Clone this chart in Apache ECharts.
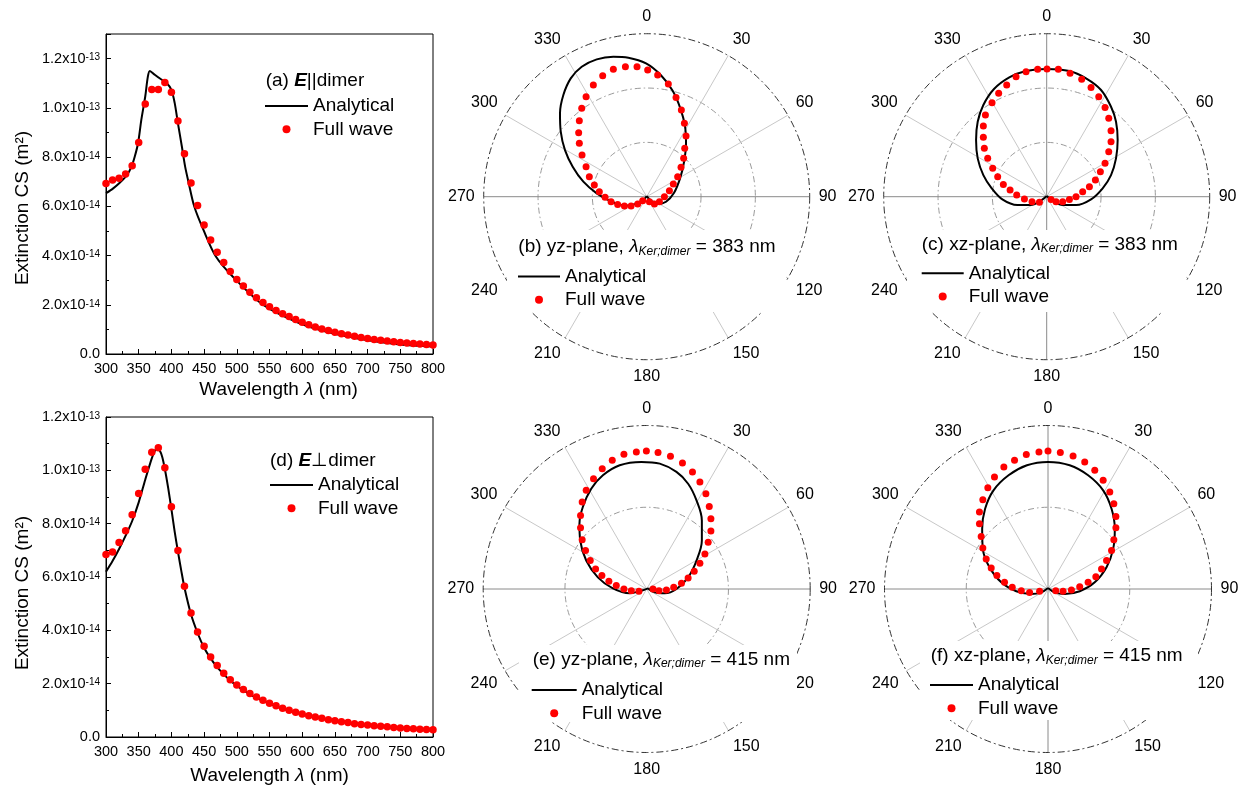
<!DOCTYPE html>
<html>
<head>
<meta charset="utf-8">
<script src="https://cdn.jsdelivr.net/npm/echarts@6/dist/echarts.min.js"></script>
<style>html,body{margin:0;padding:0;background:#fff}#c{width:1241px;height:786px}</style>
</head>
<body>
<div id="c"></div>
<script>
// ---------- DATA ----------
// Extinction cross-sections, in units of 1e-14 m^2, versus wavelength (nm)
const dotWavelength = [300,310,320,330,340,350,360,370,380,390,400,410,420,430,440,450,460,470,480,490,500,510,520,530,540,550,560,570,580,590,600,610,620,630,640,650,660,670,680,690,700,710,720,730,740,750,760,770,780,790,800];
const aFullWave = [6.93,7.07,7.14,7.31,7.65,8.59,10.16,10.75,10.75,11.03,10.63,9.47,8.14,6.95,6.03,5.24,4.63,4.13,3.72,3.35,3.03,2.76,2.51,2.29,2.09,1.92,1.77,1.64,1.52,1.40,1.29,1.19,1.10,1.02,0.95,0.88,0.82,0.77,0.72,0.67,0.63,0.59,0.56,0.53,0.50,0.47,0.45,0.43,0.41,0.39,0.37];
const aAnalyticalWl = [300,311,321,332,339,344,349,354,360,364,367,372,382,393,400,405,410,416,421,426,435,449,468,494,540,596,647,698,749,800];
const aAnalytical = [6.53,6.73,6.96,7.27,7.61,8.02,8.56,9.51,10.46,11.27,11.5,11.4,11.2,11.0,10.73,10.2,9.37,8.43,7.61,7.0,5.99,5.04,3.96,3.14,2.0,1.25,0.84,0.57,0.39,0.30];
const dFullWave = [6.84,6.94,7.29,7.73,8.33,9.13,10.04,10.68,10.85,10.10,8.63,6.99,5.65,4.65,3.94,3.40,3.00,2.68,2.39,2.15,1.95,1.78,1.63,1.50,1.38,1.27,1.17,1.08,1.00,0.93,0.86,0.80,0.75,0.70,0.65,0.61,0.57,0.54,0.50,0.47,0.45,0.42,0.40,0.38,0.36,0.34,0.32,0.31,0.29,0.28,0.27];
const dAnalyticalWl = [300,310,320,330,340,350,360,370,375,378,382,386,390,395,400,405,410,415,420,430,440,450,460,470,480,490,500,520,540,560,580,600,625,650,675,700,725,750,775,800];
const dAnalytical = [6.2,6.6,7.05,7.55,8.1,8.8,9.65,10.45,10.75,10.85,10.75,10.5,10.05,9.35,8.55,7.7,6.95,6.25,5.6,4.6,3.9,3.35,2.95,2.62,2.35,2.12,1.92,1.6,1.36,1.15,0.98,0.85,0.72,0.61,0.52,0.44,0.38,0.33,0.28,0.24];

// Far-field patterns: [horizontal, vertical] components (outer ring = 1.5)
const bAnalytical = [[0,0.006],[0.046,-0.043],[0.107,-0.067],[0.178,-0.046],[0.252,0.037],[0.307,0.169],[0.344,0.322],[0.362,0.491],[0.353,0.644],[0.313,0.804],[0.239,0.975],[0.129,1.120],[-0.006,1.227],[-0.169,1.279],[-0.307,1.288],[-0.460,1.264],[-0.598,1.196],[-0.699,1.089],[-0.767,0.936],[-0.798,0.767],[-0.791,0.598],[-0.752,0.429],[-0.681,0.276],[-0.583,0.138],[-0.460,0.031],[-0.322,-0.046],[-0.190,-0.083],[-0.086,-0.061],[-0.025,-0.025],[0,0.006]];
const bFullWave = [[-0.089,1.196],[0.009,1.166],[0.101,1.120],[0.199,1.037],[0.270,0.914],[0.319,0.798],[0.347,0.675],[0.362,0.558],[0.350,0.445],[0.340,0.353],[0.316,0.270],[0.285,0.184],[0.245,0.117],[0.209,0.055],[0.163,0],[0.117,-0.046],[0.071,-0.067],[0.025,-0.046],[-0.037,-0.037],[-0.083,-0.067],[-0.144,-0.086],[-0.205,-0.086],[-0.267,-0.071],[-0.328,-0.046],[-0.383,-0.006],[-0.436,0.046],[-0.482,0.107],[-0.528,0.184],[-0.558,0.276],[-0.595,0.383],[-0.620,0.491],[-0.626,0.589],[-0.620,0.699],[-0.598,0.813],[-0.558,0.920],[-0.491,1.028],[-0.405,1.113],[-0.307,1.172],[-0.196,1.196]];
const cAnalytical = [[0,0.006],[0.055,-0.037],[0.147,-0.077],[0.270,-0.077],[0.408,-0.025],[0.515,0.077],[0.592,0.199],[0.638,0.353],[0.653,0.521],[0.638,0.690],[0.592,0.828],[0.500,0.982],[0.362,1.089],[0.209,1.156],[0,1.175],[-0.190,1.156],[-0.344,1.098],[-0.485,0.991],[-0.583,0.844],[-0.635,0.690],[-0.650,0.521],[-0.635,0.353],[-0.583,0.199],[-0.506,0.077],[-0.408,-0.025],[-0.270,-0.077],[-0.147,-0.077],[-0.055,-0.037],[0,0.006]];
const cFullWave = [[0.003,1.175],[0.107,1.172],[0.215,1.135],[0.322,1.080],[0.408,1.006],[0.479,0.920],[0.537,0.822],[0.571,0.721],[0.592,0.607],[0.592,0.506],[0.571,0.414],[0.537,0.307],[0.494,0.230],[0.448,0.153],[0.393,0.092],[0.331,0.046],[0.270,0],[0.209,-0.025],[0.147,-0.046],[0.086,-0.046],[0.040,-0.025],[-0.067,-0.052],[-0.135,-0.046],[-0.205,-0.021],[-0.276,0.015],[-0.337,0.061],[-0.399,0.113],[-0.451,0.184],[-0.497,0.261],[-0.543,0.353],[-0.574,0.445],[-0.583,0.546],[-0.583,0.650],[-0.564,0.752],[-0.503,0.865],[-0.442,0.951],[-0.368,1.028],[-0.282,1.104],[-0.190,1.150],[-0.083,1.172]];
const eAnalytical = [[0.012,0.006],[0.074,-0.031],[0.166,-0.040],[0.273,0],[0.380,0.107],[0.457,0.261],[0.506,0.445],[0.506,0.629],[0.457,0.813],[0.380,0.966],[0.273,1.074],[0.120,1.150],[-0.049,1.166],[-0.248,1.135],[-0.402,1.043],[-0.509,0.920],[-0.586,0.752],[-0.617,0.598],[-0.610,0.445],[-0.555,0.261],[-0.448,0.107],[-0.310,0.005],[-0.156,-0.040],[-0.049,-0.015],[0.012,0.006]];
const eFullWave = [[-0.003,1.267],[0.104,1.252],[0.218,1.218],[0.328,1.156],[0.420,1.074],[0.488,0.982],[0.543,0.874],[0.574,0.758],[0.589,0.644],[0.589,0.531],[0.564,0.429],[0.534,0.322],[0.488,0.236],[0.436,0.163],[0.380,0.101],[0.319,0.052],[0.248,0.015],[0.181,-0.009],[0.113,-0.015],[0.058,0],[-0.071,-0.021],[-0.141,-0.015],[-0.209,0],[-0.279,0.031],[-0.347,0.071],[-0.411,0.123],[-0.469,0.184],[-0.518,0.261],[-0.561,0.353],[-0.592,0.451],[-0.607,0.561],[-0.607,0.675],[-0.592,0.798],[-0.555,0.905],[-0.488,1.012],[-0.408,1.104],[-0.316,1.181],[-0.209,1.236],[-0.095,1.258]];
const fAnalytical = [[0,0.009],[0.061,-0.031],[0.153,-0.046],[0.291,-0.021],[0.429,0.061],[0.537,0.199],[0.598,0.368],[0.613,0.552],[0.583,0.736],[0.506,0.905],[0.368,1.043],[0.199,1.135],[0,1.166],[-0.193,1.135],[-0.362,1.043],[-0.500,0.905],[-0.577,0.736],[-0.604,0.552],[-0.598,0.368],[-0.537,0.199],[-0.429,0.061],[-0.291,-0.021],[-0.153,-0.046],[-0.061,-0.031],[0,0.009]];
const fFullWave = [[0,1.267],[0.113,1.252],[0.230,1.221],[0.337,1.166],[0.429,1.089],[0.506,0.997],[0.567,0.890],[0.604,0.782],[0.623,0.666],[0.623,0.561],[0.604,0.451],[0.583,0.353],[0.537,0.261],[0.491,0.184],[0.439,0.113],[0.368,0.061],[0.291,0.021],[0.215,-0.009],[0.138,-0.021],[0.071,-0.015],[-0.077,-0.021],[-0.169,-0.031],[-0.245,-0.015],[-0.328,0.015],[-0.399,0.061],[-0.469,0.123],[-0.521,0.193],[-0.567,0.276],[-0.598,0.377],[-0.613,0.482],[-0.629,0.598],[-0.629,0.706],[-0.598,0.819],[-0.552,0.929],[-0.491,1.028],[-0.405,1.120],[-0.307,1.181],[-0.199,1.233],[-0.083,1.258]];

const panelTitles = [
  '{n|(a) }{be|E}{n|||dimer}',
  '{n|(d) }{be|E}{n|⊥dimer}',
  '{n|(b) yz-plane, }{i|λ}{s|Ker;dimer}{n| = 383 nm}',
  '{n|(c) xz-plane, }{i|λ}{s|Ker;dimer}{n| = 383 nm}',
  '{n|(e) yz-plane, }{i|λ}{s|Ker;dimer}{n| = 415 nm}',
  '{n|(f) xz-plane, }{i|λ}{s|Ker;dimer}{n| = 415 nm}'
];
const seriesNames = ['Analytical', 'Full wave'];

// ---------- LAYOUT ----------
const FONT = '"Liberation Sans", Arial, Helvetica, sans-serif';
const polarPanels = [
  {cx:646.7, cy:196.7, r:163,   step:0.5,  vline:false, l120:'120', cover:[507,230,279,82]},
  {cx:1046.7,cy:196.7, r:163,   step:0.5,  vline:true,  l120:'120', cover:[907,230,279,82]},
  {cx:646.7, cy:589,   r:163.5, step:0.75, vline:false, l120:'20',  cover:[519,645,278,77]},
  {cx:1048,  cy:589,   r:163.5, step:0.75, vline:true,  l120:'120', cover:[920,641,278,79]}
];
const polarData = [[bAnalytical,bFullWave],[cAnalytical,cFullWave],[eAnalytical,eFullWave],[fAnalytical,fFullWave]];
const titlePos = [[265.7,71.7],[270,451],[518.3,237.7],[921.7,235],[532.7,650],[930.7,646.7]];
const legendPos = [[265,96.5,43],[270,475.5,43],[518,267,42],[921.7,263.8,42],[531.7,680.5,45],[930,675.5,43]];

const titleRich = {
  n:{fontSize:19,fontFamily:FONT,fontWeight:'normal',color:'#000',lineHeight:20,verticalAlign:'top'},
  i:{fontSize:19,fontFamily:FONT,fontWeight:'normal',fontStyle:'italic',color:'#000',lineHeight:20,verticalAlign:'top'},
  be:{fontSize:19,fontFamily:FONT,fontStyle:'italic',fontWeight:'bold',color:'#000',lineHeight:20,verticalAlign:'top'},
  s:{fontSize:12,fontFamily:FONT,fontWeight:'normal',fontStyle:'italic',color:'#000',lineHeight:12,padding:[11,0,0,0],verticalAlign:'bottom'}
};

function sciLabel(v){
  if (Math.abs(v) < 1e-9) return '{b|0.0}';
  if (Math.abs(v - Math.round(v/2)*2) > 1e-6) return '';
  const big = v >= 10;
  const m = big ? v/10 : v;
  return '{b|' + m.toFixed(1) + 'x10}{p|' + (big ? '-13' : '-14') + '}';
}
const yRich = {
  b:{fontSize:14.5,fontFamily:FONT,color:'#000',lineHeight:14,padding:[5,0,5,0]},
  p:{fontSize:10,fontFamily:FONT,color:'#000',lineHeight:10,padding:[1,0,0,0],verticalAlign:'top'}
};

function leftX(gi, gap, padLeft){
  return {gridIndex:gi,type:'value',min:300,max:800,interval:50,
    axisLine:{lineStyle:{color:'#000',width:1}},
    axisTick:{inside:true,length:5,lineStyle:{color:'#000'}},
    minorTick:{show:true,splitNumber:2,length:3,lineStyle:{color:'#000'}},
    splitLine:{show:false},
    axisLabel:{color:'#000',fontSize:14.5,fontFamily:FONT,margin:7},
    name:'Wavelength {i|λ} (nm)',nameLocation:'middle',nameGap:gap,
    nameTextStyle:{fontSize:19,fontFamily:FONT,color:'#000',lineHeight:19,padding:[0,0,0,padLeft],
      rich:{i:{fontSize:19,fontFamily:FONT,fontStyle:'italic',color:'#000'}}}};
}
function leftY(gi, max, padRight){
  return {gridIndex:gi,type:'value',min:0,max:max,interval:2,
    axisLine:{lineStyle:{color:'#000',width:1}},
    axisTick:{inside:true,length:5,lineStyle:{color:'#000'}},
    minorTick:{show:true,splitNumber:2,length:3,lineStyle:{color:'#000'}},
    splitLine:{show:false},
    axisLabel:{color:'#000',margin:6,formatter:sciLabel,rich:yRich},
    name:'Extinction CS (m²)',nameLocation:'middle',nameRotate:90,nameGap:74,
    nameTextStyle:{fontSize:19,fontFamily:FONT,color:'#000',lineHeight:19,padding:[0,padRight,0,0]}};
}

const grids = [
  {left:106,top:34,width:327,height:320,show:true,borderColor:'#000',borderWidth:1},
  {left:106,top:417,width:327,height:320,show:true,borderColor:'#000',borderWidth:1}
].concat(polarPanels.map(p=>({left:p.cx-p.r,top:p.cy-p.r,width:2*p.r,height:2*p.r})));

const xAxes = [leftX(0,26,18), leftX(1,29,0)].concat(polarPanels.map((p,i)=>({gridIndex:i+2,type:'value',min:-1.5,max:1.5,show:false})));
const yAxes = [leftY(0,13,28), leftY(1,12,32)].concat(polarPanels.map((p,i)=>({gridIndex:i+2,type:'value',min:-1.5,max:1.5,show:false})));

const LIGHT = '#c8c8c8', DARK = '#8a8a8a', NONE = 'rgba(0,0,0,0)', RING = '#9a9a9a';
function spokeColors(vline){
  const v = vline ? DARK : NONE;
  return [v,LIGHT,LIGHT,DARK,LIGHT,LIGHT,v,LIGHT,LIGHT,DARK,LIGHT,LIGHT];
}

const series = [
  {name:seriesNames[0],type:'line',xAxisIndex:0,yAxisIndex:0,data:aAnalyticalWl.map((w,i)=>[w,aAnalytical[i]]),smooth:0.3,symbol:'none',lineStyle:{color:'#000',width:2},itemStyle:{color:'#000'},z:2},
  {name:seriesNames[1],type:'scatter',xAxisIndex:0,yAxisIndex:0,data:dotWavelength.map((w,i)=>[w,aFullWave[i]]),symbolSize:7.5,itemStyle:{color:'#ff0000',opacity:1},z:3},
  {name:seriesNames[0],type:'line',xAxisIndex:1,yAxisIndex:1,data:dAnalyticalWl.map((w,i)=>[w,dAnalytical[i]]),smooth:0.3,symbol:'none',lineStyle:{color:'#000',width:2},itemStyle:{color:'#000'},z:2},
  {name:seriesNames[1],type:'scatter',xAxisIndex:1,yAxisIndex:1,data:dotWavelength.map((w,i)=>[w,dFullWave[i]]),symbolSize:7.5,itemStyle:{color:'#ff0000',opacity:1},z:3}
];
polarData.forEach((d,i)=>{
  series.push({name:seriesNames[0],type:'line',xAxisIndex:i+2,yAxisIndex:i+2,data:d[0],smooth:0.35,symbol:'none',lineStyle:{color:'#000',width:2},itemStyle:{color:'#000'},z:2});
  series.push({name:seriesNames[1],type:'scatter',xAxisIndex:i+2,yAxisIndex:i+2,data:d[1],symbolSize:7,itemStyle:{color:'#ff0000',opacity:1},z:3});
});

const option = {
  backgroundColor:'#fff',
  animation:false,
  textStyle:{fontFamily:FONT},
  title: panelTitles.map((t,i)=>({text:t,left:titlePos[i][0],top:titlePos[i][1],padding:0,textStyle:{fontWeight:'normal',rich:titleRich}})),
  legend: legendPos.map(l=>({
    data:[{name:seriesNames[0],icon:'path://M0,0H43V2H0Z'},{name:seriesNames[1],icon:'circle'}],
    orient:'vertical',left:l[0],top:l[1],padding:0,itemWidth:l[2],itemHeight:8,itemGap:4.3,selectedMode:false,
    textStyle:{fontSize:19,fontFamily:FONT,color:'#000',lineHeight:19}})),
  grid: grids,
  xAxis: xAxes,
  yAxis: yAxes,
  polar: polarPanels.map(p=>({center:[p.cx,p.cy],radius:p.r})),
  angleAxis: polarPanels.map((p,i)=>({polarIndex:i,type:'value',min:0,max:360,interval:30,startAngle:90,clockwise:true,z:0,
    axisLine:{show:true,lineStyle:{color:'#333',width:1,type:[7,3,2,3]}},
    axisTick:{show:false},
    axisLabel:{fontSize:16,fontFamily:FONT,color:'#000',margin:9,formatter:v=>v===360?'':(v===120?p.l120:String(v))},
    splitLine:{show:true,lineStyle:{color:spokeColors(p.vline),width:1}}})),
  radiusAxis: polarPanels.map((p,i)=>({polarIndex:i,type:'value',min:0,max:1.5,interval:p.step,z:0,
    axisLine:{show:false},axisTick:{show:false},axisLabel:{show:false},
    splitLine:{show:true,lineStyle:{color:p.step===0.5?[RING,RING,RING,NONE]:[RING,RING,NONE],width:1,type:[6,3,1.5,3]}}})),
  graphic:{elements:polarPanels.map(p=>({type:'rect',silent:true,z:1,shape:{x:p.cover[0],y:p.cover[1],width:p.cover[2],height:p.cover[3]},style:{fill:'#fff'}}))},
  series: series
};
const chart = echarts.init(document.getElementById('c'));
chart.setOption(option);
</script>
</body>
</html>
